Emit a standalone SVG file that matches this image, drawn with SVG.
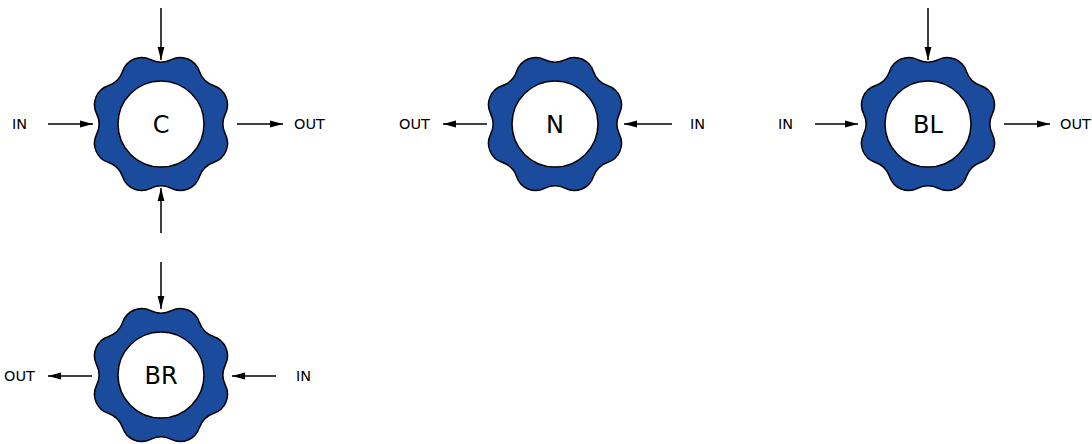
<svg xmlns="http://www.w3.org/2000/svg" xmlns:xlink="http://www.w3.org/1999/xlink" width="1092" height="444" viewBox="0 0 1092 444">
<style>
.gear{fill:#1a4b9c;stroke:#000;stroke-width:1.5}
.hole{fill:#fff;stroke:#000;stroke-width:1.5}
.name{font-family:"DejaVu Sans","Liberation Sans",sans-serif;font-size:24px;fill:#000;text-anchor:middle}
.lbl{font-family:"DejaVu Sans","Liberation Sans",sans-serif;font-size:14.5px;fill:#000}
.arr{stroke:#000;stroke-width:1.5;fill:none;marker-end:url(#ah)}
</style>
<defs>
<marker id="ah" markerUnits="userSpaceOnUse" markerWidth="14" markerHeight="10" refX="13" refY="4" orient="auto">
<path d="M0,0.6 L13,4 L0,7.4 Z" fill="#000"/>
</marker>
<path id="gearShape" d="M64.43,-10.40 A23.46,23.46 0 0 0 64.43,10.40 A20,20 0 0 1 52.91,38.21 A23.46,23.46 0 0 0 38.21,52.91 A20,20 0 0 1 10.40,64.43 A23.46,23.46 0 0 0 -10.40,64.43 A20,20 0 0 1 -38.21,52.91 A23.46,23.46 0 0 0 -52.91,38.21 A20,20 0 0 1 -64.43,10.40 A23.46,23.46 0 0 0 -64.43,-10.40 A20,20 0 0 1 -52.91,-38.21 A23.46,23.46 0 0 0 -38.21,-52.91 A20,20 0 0 1 -10.40,-64.43 A23.46,23.46 0 0 0 10.40,-64.43 A20,20 0 0 1 38.21,-52.91 A23.46,23.46 0 0 0 52.91,-38.21 A20,20 0 0 1 64.43,-10.40 Z"/>
</defs>
<rect width="1092" height="444" fill="#fff"/>
<g id="node-C" transform="translate(161,124)">
<use href="#gearShape" xlink:href="#gearShape" class="gear"/>
<circle r="43" class="hole"/>
<text class="name" y="9">C</text>
</g>
<g id="node-N" transform="translate(555,124)">
<use href="#gearShape" xlink:href="#gearShape" class="gear"/>
<circle r="43" class="hole"/>
<text class="name" y="9">N</text>
</g>
<g id="node-BL" transform="translate(928,124)">
<use href="#gearShape" xlink:href="#gearShape" class="gear"/>
<circle r="43" class="hole"/>
<text class="name" y="9">BL</text>
</g>
<g id="node-BR" transform="translate(161,375)">
<use href="#gearShape" xlink:href="#gearShape" class="gear"/>
<circle r="43" class="hole"/>
<text class="name" y="9">BR</text>
</g>
<g id="labels">
<text class="lbl" x="12" y="129">IN</text>
<text class="lbl" x="294" y="129">OUT</text>
<text class="lbl" x="399" y="129">OUT</text>
<text class="lbl" x="690" y="129">IN</text>
<text class="lbl" x="778" y="129">IN</text>
<text class="lbl" x="1060" y="129">OUT</text>
<text class="lbl" x="4" y="381">OUT</text>
<text class="lbl" x="296" y="381">IN</text>
</g>
<g id="connectors">
<line class="arr" x1="161" y1="8" x2="161" y2="60"/>
<line class="arr" x1="161" y1="233" x2="161" y2="188"/>
<line class="arr" x1="48" y1="124" x2="93" y2="124"/>
<line class="arr" x1="237" y1="124" x2="283" y2="124"/>
<line class="arr" x1="487" y1="124" x2="443" y2="124"/>
<line class="arr" x1="672" y1="124" x2="624" y2="124"/>
<line class="arr" x1="928" y1="8" x2="928" y2="60"/>
<line class="arr" x1="815" y1="124" x2="858" y2="124"/>
<line class="arr" x1="1004" y1="124" x2="1050" y2="124"/>
<line class="arr" x1="161" y1="262" x2="161" y2="309"/>
<line class="arr" x1="92" y1="376" x2="48" y2="376"/>
<line class="arr" x1="276" y1="376" x2="232" y2="376"/>
</g>
</svg>
